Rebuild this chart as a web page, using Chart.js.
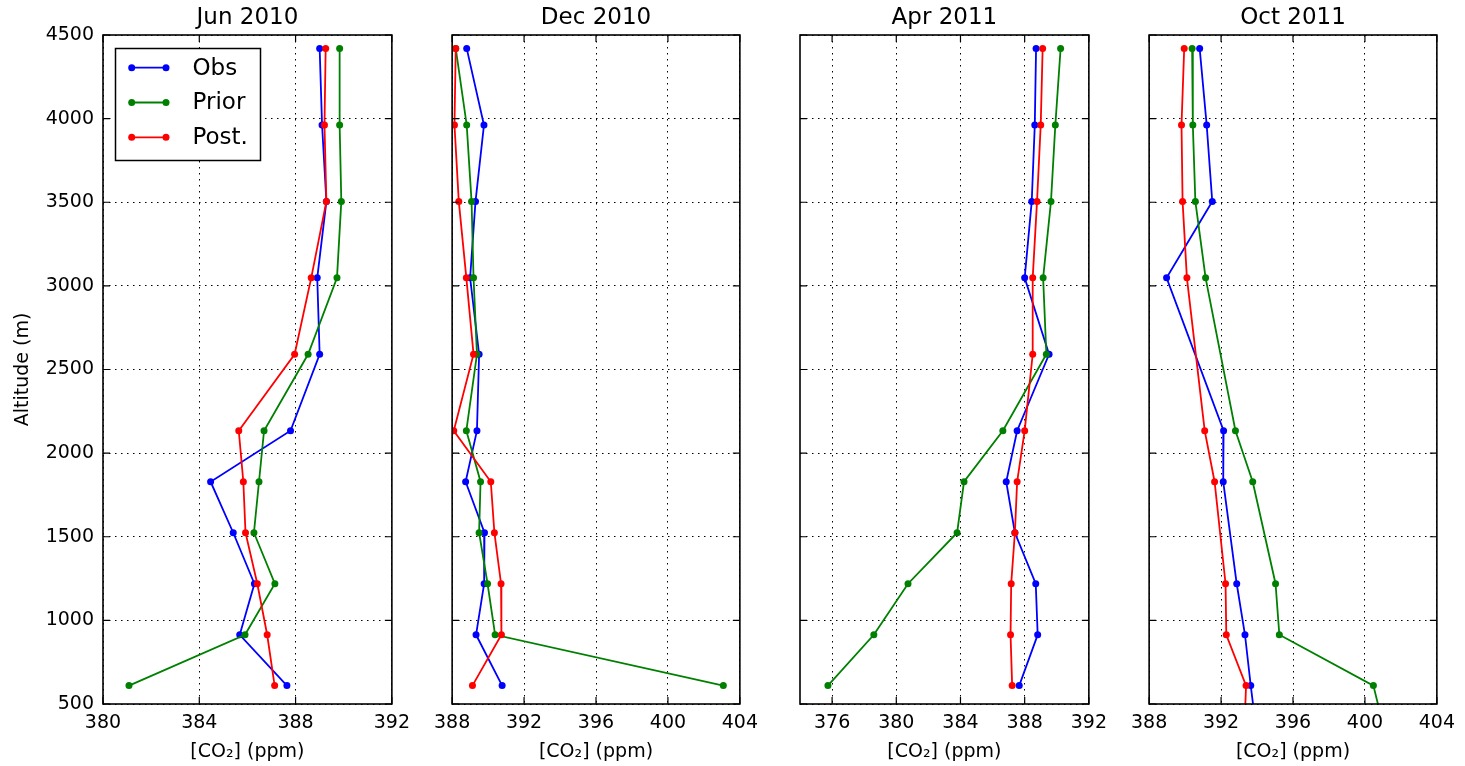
<!DOCTYPE html>
<html>
<head>
<meta charset="utf-8">
<script src="https://cdn.jsdelivr.net/npm/chart.js@4.4.0/dist/chart.umd.min.js"></script>
<style>
  body { margin: 0; background: #fff; }
  #wrap { position: relative; width: 1465px; height: 766px; }
  #wrap canvas { position: absolute; top: 0; }
</style>
</head>
<body>
<div id="wrap"></div>
<script>
// flight levels (m); the Oct 2011 profile skips two levels and has one below the axis
var altitudes = [4420, 3962, 3505, 3048, 2591, 2134, 1829, 1524, 1219, 914, 610];
var altitudesOct = [4420, 3962, 3505, 3048, 2134, 1829, 1219, 914, 610, 305];

var seriesNames = ["Obs", "Prior", "Post."];
var seriesColors = ["#0000ff", "#008000", "#ff0000"];
var panelTitles = ["Jun 2010", "Dec 2010", "Apr 2011", "Oct 2011"];

var junObs   = [389.0, 389.1, 389.28, 388.9, 389.0, 387.79, 384.47, 385.41, 386.29, 385.68, 387.64];
var junPrior = [389.83, 389.83, 389.9, 389.72, 388.52, 386.69, 386.48, 386.27, 387.14, 385.9, 381.08];
var junPost  = [389.25, 389.2, 389.28, 388.65, 387.96, 385.64, 385.83, 385.92, 386.41, 386.82, 387.13];

var decObs   = [388.81, 389.77, 389.3, 389.0, 389.5, 389.38, 388.75, 389.8, 389.78, 389.33, 390.78];
var decPrior = [388.2, 388.81, 389.08, 389.19, 389.38, 388.79, 389.58, 389.5, 389.97, 390.39, 403.08];
var decPost  = [388.2, 388.13, 388.37, 388.79, 389.19, 388.09, 390.15, 390.35, 390.72, 390.74, 389.13];

var aprObs   = [388.71, 388.63, 388.44, 388.0, 389.52, 387.53, 386.85, 387.39, 388.69, 388.81, 387.66];
var aprPrior = [390.24, 389.91, 389.64, 389.15, 389.35, 386.64, 384.22, 383.79, 380.73, 378.6, 375.74];
var aprPost  = [389.12, 389.0, 388.77, 388.5, 388.5, 388.0, 387.53, 387.39, 387.16, 387.12, 387.22];

var octObs   = [390.81, 391.2, 391.51, 388.97, 392.14, 392.12, 392.87, 393.33, 393.65, 394.0];
var octPrior = [390.39, 390.43, 390.57, 391.14, 392.8, 393.76, 395.03, 395.24, 400.47, 401.17];
var octPost  = [389.95, 389.8, 389.86, 390.1, 391.09, 391.64, 392.25, 392.29, 393.39, 393.28];

var xRanges = [[380, 392], [388, 404], [374, 392], [388, 404]];
var xTicks = [[380, 384, 388, 392], [388, 392, 396, 400, 404], [376, 380, 384, 388, 392], [388, 392, 396, 400, 404]];
var yTicks = [500, 1000, 1500, 2000, 2500, 3000, 3500, 4000, 4500];

var panels = [
  { alts: altitudes, series: [junObs, junPrior, junPost] },
  { alts: altitudes, series: [decObs, decPrior, decPost] },
  { alts: altitudes, series: [aprObs, aprPrior, aprPost] },
  { alts: altitudesOct, series: [octObs, octPrior, octPost] }
];

var plotLefts = [103, 451, 800, 1148];
var plotWidth = 290;

Chart.defaults.font.family = "'DejaVu Sans', sans-serif";
Chart.defaults.color = "#000";

// frame, inward ticks, panel title and the legend box
var framePlugin = {
  id: "frame",
  afterDraw: function(chart, args, opts) {
    var ctx = chart.ctx, a = chart.chartArea;
    var xs = chart.scales.x, ys = chart.scales.y;
    ctx.save();
    ctx.strokeStyle = "#000";
    ctx.lineWidth = 1.2;
    ctx.beginPath();
    xs.ticks.forEach(function(t) {
      var px = xs.getPixelForValue(t.value);
      ctx.moveTo(px, a.bottom); ctx.lineTo(px, a.bottom - 7);
      ctx.moveTo(px, a.top); ctx.lineTo(px, a.top + 7);
    });
    ys.ticks.forEach(function(t) {
      var py = ys.getPixelForValue(t.value);
      ctx.moveTo(a.left, py); ctx.lineTo(a.left + 7, py);
      ctx.moveTo(a.right, py); ctx.lineTo(a.right - 7, py);
    });
    ctx.stroke();
    ctx.lineWidth = 1.6;
    ctx.strokeRect(a.left, a.top, a.right - a.left, a.bottom - a.top);

    ctx.fillStyle = "#000";
    ctx.font = "23px 'DejaVu Sans'";
    ctx.textAlign = "center";
    ctx.textBaseline = "middle";
    ctx.fillText(opts.title, (a.left + a.right) / 2, 18);

    if (opts.legend) {
      ctx.fillStyle = "#fff";
      ctx.fillRect(115.5, 48.5, 145, 112);
      ctx.lineWidth = 1.5;
      ctx.strokeRect(115.5, 48.5, 145, 112);
      ctx.font = "23px 'DejaVu Sans'";
      ctx.textAlign = "left";
      seriesNames.forEach(function(name, k) {
        var y = 67.7 + k * 34.8;
        ctx.strokeStyle = seriesColors[k];
        ctx.fillStyle = seriesColors[k];
        ctx.lineWidth = 1.8;
        ctx.beginPath(); ctx.moveTo(131.7, y); ctx.lineTo(166, y); ctx.stroke();
        [131.7, 166].forEach(function(x) {
          ctx.beginPath(); ctx.arc(x, y, 3.5, 0, Math.PI * 2); ctx.fill();
        });
        ctx.fillStyle = "#000";
        ctx.fillText(name, 192.5, y + 1);
      });
    }
    ctx.restore();
  }
};

var wrap = document.getElementById("wrap");

panels.forEach(function(p, i) {
  var padL = i === 0 ? 0 : 25;
  var canvasLeft = i === 0 ? 0 : plotLefts[i] - 25;
  var canvasWidth = plotLefts[i] + plotWidth + 25 - canvasLeft;
  var cv = document.createElement("canvas");
  cv.width = canvasWidth;
  cv.height = 766;
  cv.style.left = canvasLeft + "px";
  wrap.appendChild(cv);

  var datasets = p.series.map(function(vals, k) {
    return {
      label: seriesNames[k],
      data: vals.map(function(v, j) { return { x: v, y: p.alts[j] }; }),
      showLine: true,
      borderColor: seriesColors[k],
      backgroundColor: seriesColors[k],
      borderWidth: 1.8,
      pointRadius: 3.5,
      pointBorderWidth: 0,
      pointHoverRadius: 3.5,
      tension: 0,
      order: 3 - k
    };
  });

  new Chart(cv, {
    type: "scatter",
    data: { datasets: datasets },
    options: {
      responsive: false,
      animation: false,
      events: [],
      layout: { padding: { left: padL, right: 25, top: 35, bottom: 0 } },
      plugins: {
        legend: { display: false },
        tooltip: { enabled: false },
        frame: { title: panelTitles[i], legend: i === 0 }
      },
      scales: {
        x: {
          type: "linear",
          min: xRanges[i][0],
          max: xRanges[i][1],
          afterBuildTicks: function(s) { s.ticks = xTicks[i].map(function(v) { return { value: v }; }); },
          afterFit: function(s) { s.height = 62; },
          grid: { color: "#000", lineWidth: 1, drawTicks: false },
          border: { display: false, dash: [1.5, 4.5] },
          ticks: { font: { size: 19 }, padding: 8, maxRotation: 0, callback: function(v) { return String(v); } },
          title: { display: true, text: "[CO\u2082] (ppm)", font: { size: 19 }, padding: { top: 0, bottom: 3 } }
        },
        y: {
          type: "linear",
          min: 500,
          max: 4500,
          afterBuildTicks: function(s) { s.ticks = yTicks.map(function(v) { return { value: v }; }); },
          afterFit: function(s) { s.width = i === 0 ? 103 : 0; },
          grid: { color: "#000", lineWidth: 1, drawTicks: false },
          border: { display: false, dash: [1.5, 4.5] },
          ticks: { display: i === 0, font: { size: 19 }, padding: 9, callback: function(v) { return String(v); } },
          title: { display: i === 0, text: "Altitude (m)", font: { size: 19 }, padding: { top: 12, bottom: 0 } }
        }
      }
    },
    plugins: [framePlugin]
  });
});
</script>
</body>
</html>
